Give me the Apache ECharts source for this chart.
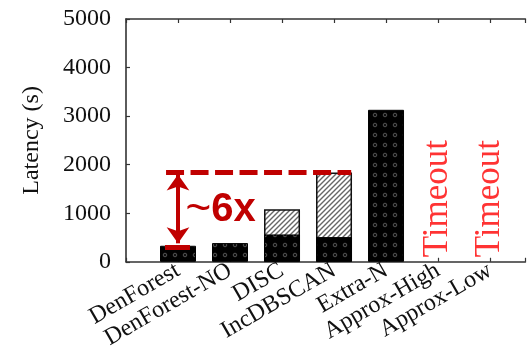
<!DOCTYPE html>
<html>
<head>
<meta charset="utf-8">
<script src="https://cdn.jsdelivr.net/npm/echarts@6/dist/echarts.min.js"></script>
<style>
  html, body { margin: 0; padding: 0; background: #fff; }
  #chart { width: 528px; height: 352px; }
</style>
</head>
<body>
<div id="chart"></div>
<script>
// Methods on the x axis, one slot each
const categories = ['DenForest', 'DenForest-NO', 'DISC', 'IncDBSCAN', 'Extra-N', 'Approx-High', 'Approx-Low'];
// Base latency part of each bar (s); null = no bar
const solidLatency = [330, 385, 563, 508, 3130, null, null];
// Full latency of bars that have an extra hatched part (s)
const totalLatency = [null, null, 1083, 1840, null, null, null];
// Methods that did not finish
const timedOut = [false, false, false, false, false, true, true];
const yTicks = [0, 1000, 2000, 3000, 4000, 5000];

const serif = 'Liberation Serif, Times New Roman, serif';
const red = '#c00000';

function dottedPattern() {
  const c = document.createElement('canvas');
  c.width = 10; c.height = 10;
  const g = c.getContext('2d');
  g.fillStyle = '#000';
  g.fillRect(0, 0, 10, 10);
  g.strokeStyle = '#555';
  g.lineWidth = 1;
  g.beginPath();
  g.arc(5, 5, 1.8, 0, Math.PI * 2);
  g.stroke();
  g.fillStyle = '#3a3a3a';
  g.fillRect(4.5, 4.5, 1, 1);
  return c;
}
function hatchPattern() {
  const s = 5;
  const c = document.createElement('canvas');
  c.width = s; c.height = s;
  const g = c.getContext('2d');
  g.fillStyle = '#fff';
  g.fillRect(0, 0, s, s);
  g.strokeStyle = '#666';
  g.lineWidth = 1.4;
  g.beginPath();
  g.moveTo(-1, s + 1); g.lineTo(s + 1, -1);
  g.moveTo(-1, 1); g.lineTo(1, -1);
  g.moveTo(s - 1, s + 1); g.lineTo(s + 1, s - 1);
  g.stroke();
  return c;
}

const pairs = arr => arr.map((v, i) => v == null ? null : [i, v]).filter(Boolean);
const timeoutData = timedOut.map((t, i) => t ? [i, 1300] : null).filter(Boolean);

const chart = echarts.init(document.getElementById('chart'), null, { renderer: 'canvas' });

const axisLine = { show: true, onZero: false, lineStyle: { color: '#333', width: 1.6 } };
const tickStyle = { show: true, inside: true, length: 4, lineStyle: { color: '#333', width: 1.2 } };

chart.setOption({
  animation: false,
  grid: { left: 126, right: 0, top: 19, bottom: 87, containLabel: false },
  xAxis: [{
    type: 'value', min: -1, max: 6.68, interval: 1,
    axisLine: axisLine, axisTick: tickStyle, splitLine: { show: false },
    axisLabel: {
      rotate: 30, margin: 7, fontFamily: serif, fontSize: 24, color: '#111',
      formatter: v => (Number.isInteger(v) && v >= 0 && v < categories.length) ? categories[v] : ''
    }
  }, {
    type: 'value', position: 'top', min: -1, max: 6.68, interval: 1,
    axisLine: axisLine, axisTick: tickStyle, axisLabel: { show: false }, splitLine: { show: false }
  }],
  yAxis: {
    type: 'value', min: yTicks[0], max: yTicks[yTicks.length - 1], interval: 1000,
    name: 'Latency (s)', nameLocation: 'middle', nameGap: 82,
    nameTextStyle: { fontFamily: serif, fontSize: 24, color: '#111' },
    axisLine: axisLine, axisTick: tickStyle, splitLine: { show: false },
    axisLabel: { fontFamily: serif, fontSize: 24, color: '#111', margin: 15, formatter: v => String(v) }
  },
  series: [{
    name: 'extra',
    type: 'bar', barWidth: 36, barGap: '-100%',
    data: pairs(totalLatency),
    itemStyle: { color: { image: hatchPattern(), repeat: 'repeat' }, borderColor: '#111', borderWidth: 1.5 },
    z: 2
  }, {
    name: 'base',
    type: 'bar', barWidth: 36, barGap: '-100%',
    data: pairs(solidLatency),
    itemStyle: { color: { image: dottedPattern(), repeat: 'repeat' }, borderColor: '#000', borderWidth: 1 },
    z: 3,
    markLine: {
      silent: true, animation: false, z: 10,
      label: { show: false },
      data: [
        [{ coord: [-0.23, totalLatency[3]], symbol: 'none', lineStyle: { color: red, width: 5, type: [18, 6.5] } },
         { coord: [3.33, totalLatency[3]], symbol: 'none' }],
        [{ coord: [0, totalLatency[3] - 40], symbol: 'arrow', symbolSize: [17, 16], lineStyle: { color: red, width: 4, type: 'solid' } },
         { coord: [0, solidLatency[0] + 50], symbol: 'arrow', symbolSize: [17, 16] }],
        [{ coord: [-0.25, solidLatency[0] - 30], symbol: 'none', lineStyle: { color: red, width: 5, type: 'solid' } },
         { coord: [0.23, solidLatency[0] - 30], symbol: 'none' }]
      ]
    },
    markPoint: {
      silent: true, symbolSize: 0, animation: false,
      data: [{ coord: [0.82, 1077], value: 0 }],
      label: {
        show: true, position: 'inside',
        formatter: '{t|~}{n|6x}',
        rich: {
          t: { fontFamily: 'Liberation Sans, Arial, sans-serif', fontWeight: 'normal', fontSize: 44, color: red },
          n: { fontFamily: 'Liberation Sans, Arial, sans-serif', fontWeight: 'bold', fontSize: 40, color: red }
        }
      }
    }
  }, {
    name: 'timeout',
    type: 'scatter', symbolSize: 0, silent: true,
    data: timeoutData,
    label: {
      show: true, position: 'inside', rotate: 90,
      formatter: 'Timeout', fontFamily: serif, fontSize: 35, color: '#ff0000'
    }
  }]
});
</script>
</body>
</html>
